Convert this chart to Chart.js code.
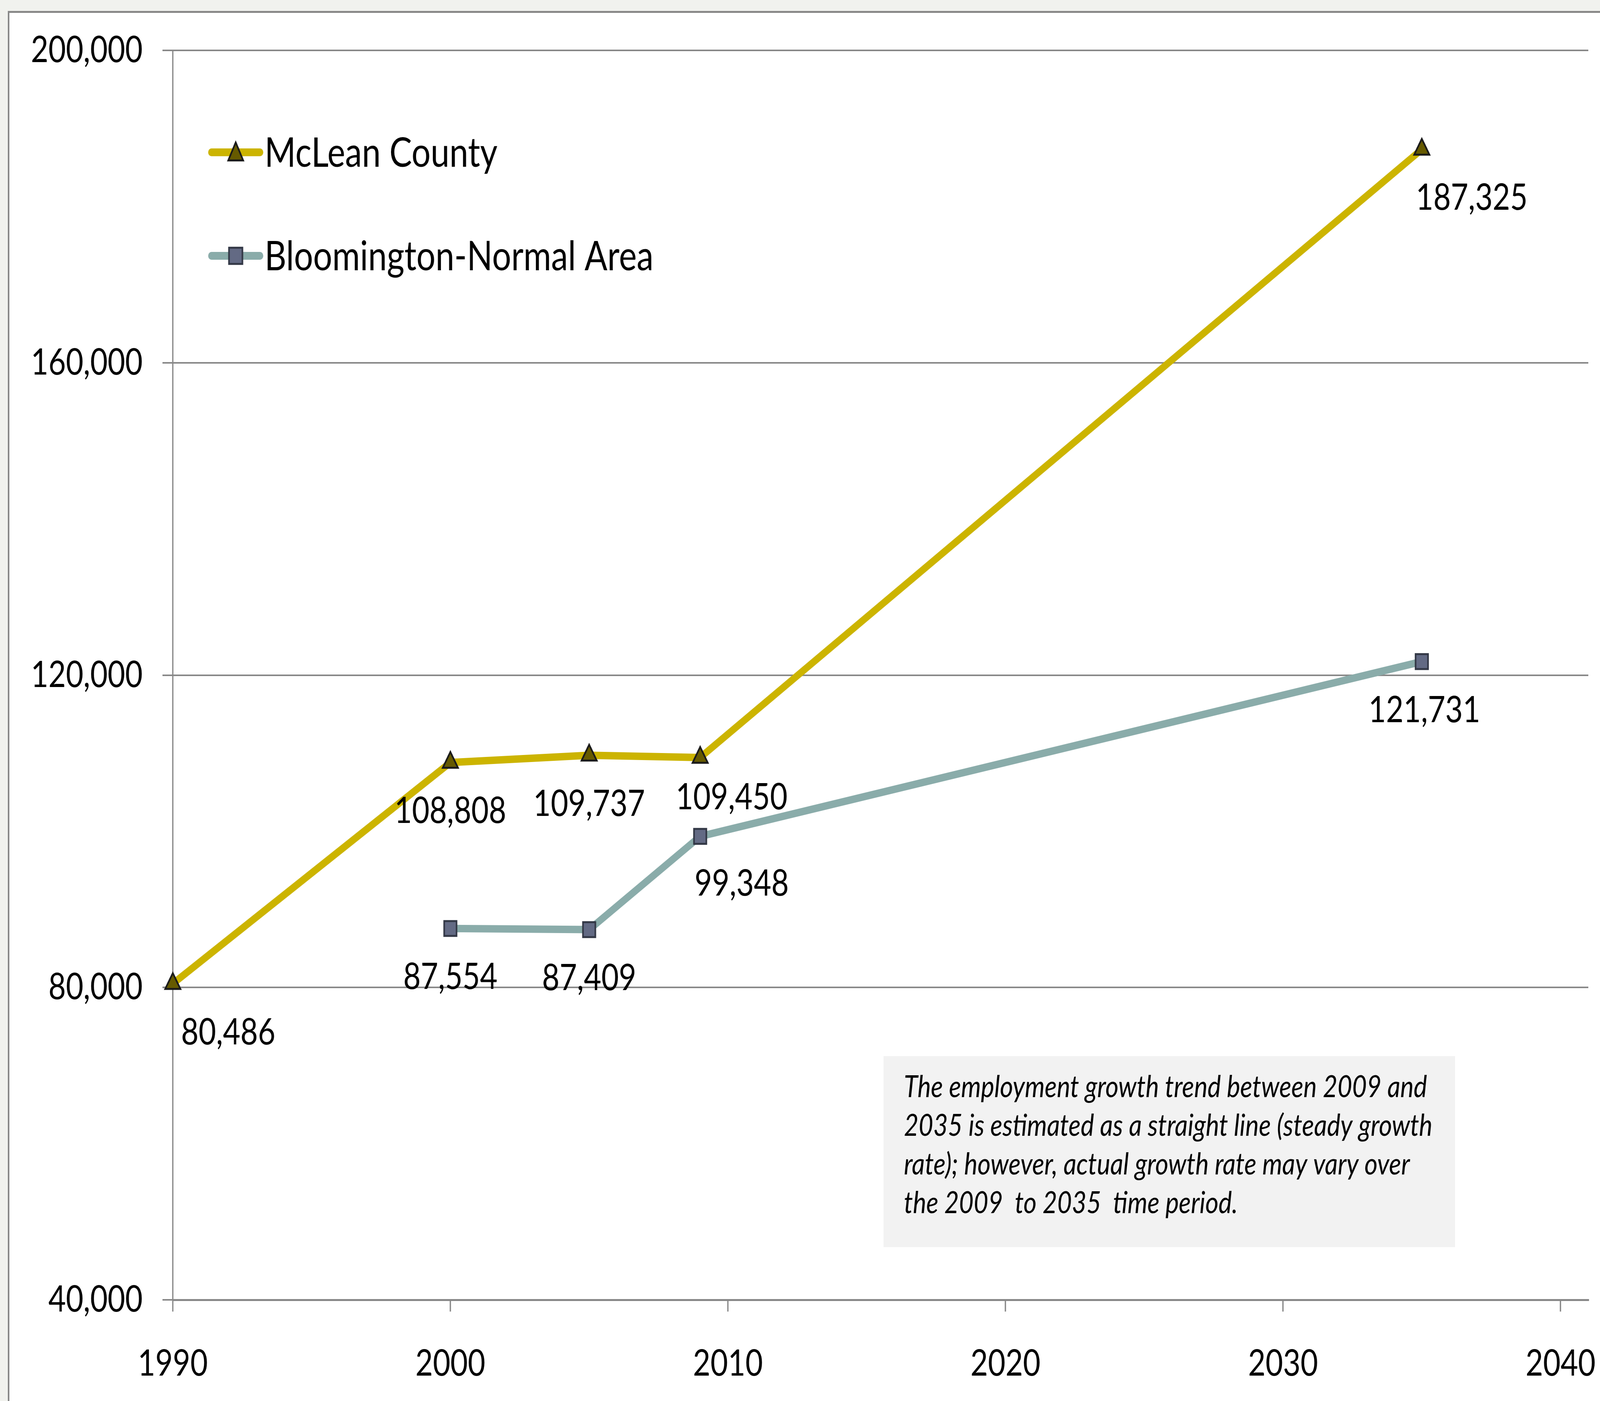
<!DOCTYPE html>
<html><head><meta charset="utf-8">
<style>
html,body{margin:0;padding:0;background:#ffffff;overflow:hidden}
#wrap{position:absolute;left:0;top:0;width:4935px;height:3587px;transform-origin:0 0}
</style>
<script src="https://cdn.jsdelivr.net/npm/chart.js@4.4.1/dist/chart.umd.min.js"></script>
</head><body><div id="wrap"><canvas id="c" width="4935" height="3587"></canvas></div>
<script>
// ---- data ----
const xTickYears = [1990, 2000, 2010, 2020, 2030, 2040];
const yTickValues = [40000, 80000, 120000, 160000, 200000];
const seriesNames = ['McLean County', 'Bloomington-Normal Area'];
const mcleanYears = [1990, 2000, 2005, 2009, 2035];
const mcleanValues = [80486, 108808, 109737, 109450, 187325];
const bnYears = [2000, 2005, 2009, 2035];
const bnValues = [87554, 87409, 99348, 121731];
const noteLines = [
  'The employment growth trend between 2009 and',
  '2035 is estimated as a straight line (steady growth',
  'rate); however, actual growth rate may vary over',
  'the 2009  to 2035  time period.'
];

// stretch the 4935x3587 drawing over the whole viewport
(function fit() {
  const sx = window.innerWidth / 4935, sy = window.innerHeight / 3587;
  document.getElementById('wrap').style.transform = 'scale(' + sx + ',' + sy + ')';
})();

const FONT = 'Lato, "Liberation Sans", sans-serif';
const fmt = v => v.toLocaleString('en-US');

const frame = {
  id: 'frame',
  beforeDraw(chart) {
    const c = chart.ctx, W = chart.width, H = chart.height;
    c.save();
    c.fillStyle = '#ffffff'; c.fillRect(0, 0, W, H);
    c.fillStyle = '#f1f2ee'; c.fillRect(0, 0, W, 28); c.fillRect(0, 0, 24, H);
    c.fillStyle = '#888888'; c.fillRect(24, 28, W - 24, 5); c.fillRect(24, 28, 5, H - 28);
    c.restore();
  }
};

const note = {
  id: 'note',
  afterDraw(chart, args, o) {
    const c = chart.ctx;
    c.save();
    c.fillStyle = '#f2f2f2';
    c.fillRect(o.left, o.top, o.width, o.height);
    c.fillStyle = '#000';
    c.font = o.font;
    c.textAlign = 'left'; c.textBaseline = 'alphabetic';
    noteLines.forEach((t, i) => c.fillText(t, o.textX, o.firstBaseline + i * o.lineGap));
    c.restore();
  }
};

const valueLabels = {
  id: 'valueLabels',
  afterDatasetsDraw(chart, args, o) {
    const c = chart.ctx;
    c.save();
    c.font = o.font; c.fillStyle = '#000';
    c.textAlign = 'center'; c.textBaseline = 'alphabetic';
    chart.data.datasets.forEach((ds, di) => {
      const meta = chart.getDatasetMeta(di);
      meta.data.forEach((pt, i) => {
        const n = (o.nudge[di] && o.nudge[di][i]) || [0, 0];
        c.fillText(fmt(ds.data[i].y), pt.x + n[0], pt.y + o.dy + n[1] + o.baselineShift);
      });
    });
    c.restore();
  }
};

const customLegend = {
  id: 'customLegend',
  afterDraw(chart, args, o) {
    const c = chart.ctx;
    c.save();
    chart.data.datasets.forEach((ds, i) => {
      const cy = o.y0 + i * o.gap;
      c.strokeStyle = ds.borderColor; c.lineWidth = o.lineWidth; c.lineCap = 'round';
      c.beginPath(); c.moveTo(o.lineX0, cy); c.lineTo(o.lineX1, cy); c.stroke();
      const mx = (o.lineX0 + o.lineX1) / 2;
      c.fillStyle = ds.pointBackgroundColor; c.strokeStyle = ds.pointBorderColor;
      c.lineWidth = ds.pointBorderWidth; c.lineJoin = 'miter';
      c.beginPath();
      if (ds.pointStyle === 'triangle') {
        const h = o.markSize;
        c.moveTo(mx, cy - h * 0.55); c.lineTo(mx + h / 2, cy + h * 0.45); c.lineTo(mx - h / 2, cy + h * 0.45); c.closePath();
      } else {
        const s = o.markSize * 0.9;
        c.rect(mx - s / 2, cy - s / 2, s, s);
      }
      c.fill(); c.stroke();
      c.fillStyle = '#000'; c.font = o.font; c.textAlign = 'left'; c.textBaseline = 'alphabetic';
      c.fillText(ds.label, o.textX, cy + o.baselineShift);
    });
    c.restore();
  }
};

new Chart(document.getElementById('c'), {
  type: 'line',
  data: {
    datasets: [
      {
        label: seriesNames[0],
        data: mcleanYears.map((x, i) => ({ x, y: mcleanValues[i] })),
        borderColor: '#ccb400', borderWidth: 19, borderJoinStyle: 'round',
        pointStyle: 'triangle', pointRadius: 27, pointBackgroundColor: '#665a00',
        pointBorderColor: '#1a1a1a', pointBorderWidth: 5, tension: 0, clip: false
      },
      {
        label: seriesNames[1],
        data: bnYears.map((x, i) => ({ x, y: bnValues[i] })),
        borderColor: '#8aacaa', borderWidth: 19, borderJoinStyle: 'round',
        pointStyle: 'rect', pointRadius: 27, pointBackgroundColor: '#636a84',
        pointBorderColor: '#333846', pointBorderWidth: 5, tension: 0, clip: false
      }
    ]
  },
  options: {
    responsive: false, devicePixelRatio: 1, animation: false, events: [],
    layout: { padding: { left: 0, top: 129, right: 36, bottom: 0 } },
    scales: {
      x: {
        type: 'linear', min: 1990, max: 2041,
        afterBuildTicks: s => { s.ticks = xTickYears.map(v => ({ value: v })); },
        afterFit: s => { s.height = 259; s.paddingLeft = 0; s.paddingRight = 0; },
        grid: { drawOnChartArea: false, drawTicks: true, tickLength: 30, color: '#888888', lineWidth: 4 },
        border: { display: true, color: '#888888', width: 5 },
        ticks: { color: '#000', font: { family: FONT, size: 93 }, padding: 78, maxRotation: 0, autoSkip: false,
          callback: v => String(v) }
      },
      y: {
        type: 'linear', min: 40000, max: 200000,
        afterBuildTicks: s => { s.ticks = yTickValues.map(v => ({ value: v })); },
        afterFit: s => { s.width = 533; s.paddingTop = 0; s.paddingBottom = 0; },
        grid: { drawOnChartArea: true, drawTicks: true, tickLength: 32, color: '#888888', lineWidth: 4 },
        border: { display: true, color: '#888888', width: 4 },
        ticks: { color: '#000', font: { family: FONT, size: 93 }, padding: 61, callback: v => fmt(v) }
      }
    },
    plugins: {
      legend: { display: false },
      tooltip: { enabled: false },
      valueLabels: {
        font: '93px ' + FONT, dy: 121, baselineShift: 34,
        nudge: { 0: [[171, 0], [0, 0], [0, 0], [97, -22], [154, 0]], 1: [[0, 0], [0, 0], [128, -3], [8, 0]] }
      },
      customLegend: {
        y0: 390, gap: 265, lineX0: 652, lineX1: 802, lineWidth: 20, markSize: 46,
        textX: 816, baselineShift: 37, font: '104px ' + FONT
      },
      note: {
        left: 2725, top: 2704, width: 1763, height: 489,
        textX: 2788, firstBaseline: 2809, lineGap: 99, font: 'italic 78px ' + FONT
      }
    }
  },
  plugins: [frame, valueLabels, customLegend, note]
});
</script>
</body></html>
